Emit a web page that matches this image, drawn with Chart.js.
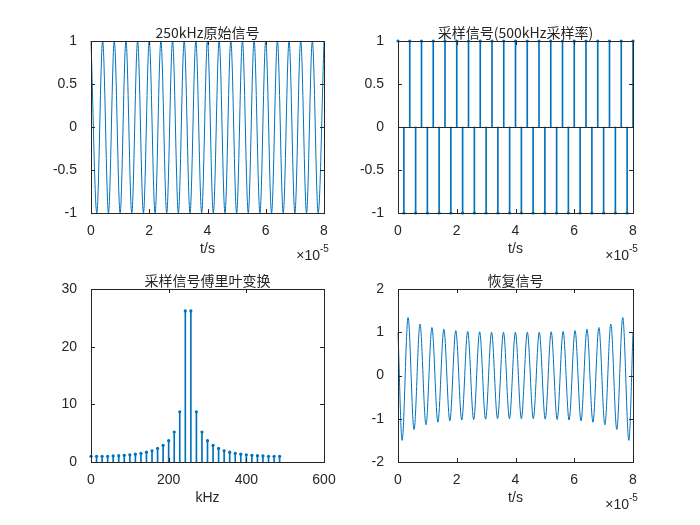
<!DOCTYPE html>
<html><head><meta charset="utf-8">
<script src="https://cdn.jsdelivr.net/npm/chart.js@4"></script>
<style>
body{margin:0;background:#fff;width:700px;height:525px;position:relative;overflow:hidden}
.c{position:absolute;width:350px;height:262px}
</style></head><body>
<div class="c" style="left:0;top:0"><canvas id="c1"></canvas></div>
<div class="c" style="left:350px;top:0"><canvas id="c2"></canvas></div>
<div class="c" style="left:0;top:262px"><canvas id="c3"></canvas></div>
<div class="c" style="left:350px;top:262px"><canvas id="c4"></canvas></div>
<script>
// time axis in units of 1e-5 s
const sampleT = [0,0.2,0.4,0.6,0.8,1,1.2,1.4,1.6,1.8,2,2.2,2.4,2.6,2.8,3,3.2,3.4,3.6,3.8,4,4.2,4.4,4.6,4.8,5,5.2,5.4,5.6,5.8,6,6.2,6.4,6.6,6.8,7,7.2,7.4,7.6,7.8,8];
const sampleV = [1,-1,1,-1,1,-1,1,-1,1,-1,1,-1,1,-1,1,-1,1,-1,1,-1,1,-1,1,-1,1,-1,1,-1,1,-1,1,-1,1,-1,1,-1,1,-1,1,-1,1];
// original signal extrema (same instants)
const origT = sampleT;
const origV = sampleV;
// FFT magnitude
const freqK = [0,14.29,28.57,42.86,57.14,71.43,85.71,100,114.29,128.57,142.86,157.14,171.43,185.71,200,214.29,228.57,242.86,257.14,271.43,285.71,300,314.29,328.57,342.86,357.14,371.43,385.71,400,414.29,428.57,442.86,457.14,471.43,485.71];
const fftMag = [1.0,1.0,1.0,1.0,1.05,1.1,1.15,1.25,1.35,1.5,1.7,1.95,2.35,2.9,3.7,5.2,8.7,26.2,26.2,8.7,5.2,3.7,2.9,2.35,1.95,1.7,1.5,1.35,1.25,1.15,1.1,1.05,1.0,1.0,1.0];
// recovered signal extrema
const recT = [0,0.14,0.343,0.546,0.749,0.952,1.155,1.358,1.561,1.764,1.967,2.17,2.373,2.576,2.779,2.982,3.185,3.388,3.591,3.794,3.997,4.2,4.403,4.606,4.809,5.012,5.215,5.418,5.621,5.824,6.027,6.23,6.433,6.636,6.839,7.042,7.245,7.448,7.651,7.86,8];
const recV = [1.0,-1.5,1.34,-1.25,1.19,-1.14,1.11,-1.08,1.07,-1.05,1.04,-1.03,1.02,-1.02,1.01,-1.01,1.0,-1.0,1.0,-1.0,1.0,-1.0,1.0,-1.0,1.0,-1.01,1.01,-1.02,1.02,-1.03,1.04,-1.05,1.07,-1.08,1.11,-1.14,1.19,-1.25,1.34,-1.5,1.0];

const BLUE='#0072BD', TXT='#262626';
const FONT="'Liberation Sans', Arial, 'Noto Sans CJK SC', sans-serif";
Chart.defaults.font.family=FONT; Chart.defaults.font.size=14; Chart.defaults.color=TXT;
Chart.defaults.animation=false;

const boxPlugin={id:'box',afterDraw(ch,a,o){
  const {ctx,chartArea:ca}=ch; ctx.save(); ctx.strokeStyle=TXT; ctx.lineWidth=1;
  const xs=ch.scales.x, ys=ch.scales.y;
  if(o.base){const p=Math.round(ys.getPixelForValue(0))+.5;ctx.beginPath();ctx.moveTo(ca.left,p);ctx.lineTo(ca.right,p);ctx.stroke();}
  ctx.strokeRect(Math.round(ca.left)+.5,Math.round(ca.top)+.5,Math.round(ca.right-ca.left),Math.round(ca.bottom-ca.top));
  ctx.beginPath();
  xs.ticks.forEach(t=>{const p=Math.round(xs.getPixelForValue(t.value))+.5;ctx.moveTo(p,ca.bottom);ctx.lineTo(p,ca.bottom-4);ctx.moveTo(p,ca.top);ctx.lineTo(p,ca.top+4);});
  ys.ticks.forEach(t=>{const p=Math.round(ys.getPixelForValue(t.value))+.5;ctx.moveTo(ca.left,p);ctx.lineTo(ca.left+4,p);ctx.moveTo(ca.right,p);ctx.lineTo(ca.right-4,p);});
  ctx.stroke();
  ctx.fillStyle=TXT;
  if(o.exp){ctx.font='14px '+FONT;ctx.textAlign='right';ctx.textBaseline='alphabetic';ctx.fillText('\u00d710',ca.right-4,ca.bottom+47);ctx.font='10px '+FONT;ctx.textAlign='left';ctx.fillText('-5',ca.right-4,ca.bottom+39);}
  ctx.font="14px 'Noto Sans CJK SC', "+FONT;ctx.textAlign='center';ctx.textBaseline='bottom';
  ctx.fillText(o.title,(ca.left+ca.right)/2,ca.top-1);
  ctx.restore();
}};

function mk(id,title,datasets,x,y,side,top,opts){
  const yw = side==='L'?91:48, pr = side==='L'?26:67;
  opts.title=title;
  return new Chart(document.getElementById(id),{
    data:{datasets},
    plugins:[boxPlugin],
    options:{responsive:true,maintainAspectRatio:false,
      layout:{padding:{left:0,right:pr,top:top?41:27,bottom:top?0:13}},
      plugins:{legend:{display:false},tooltip:{enabled:false},box:opts},
      scales:{
        x:{type:'linear',offset:false,min:x[0],max:x[1],grid:{display:false,offset:false},border:{display:false},
          ticks:{stepSize:x[2],autoSkip:false,padding:2,callback:v=>String(v)},
          title:{display:true,text:x[3],padding:{top:0}},
          afterFit(s){s.height=49;}},
        y:{type:'linear',min:y[0],max:y[1],grid:{display:false},border:{display:false},
          ticks:{stepSize:y[2],padding:6,callback:v=>String(v)},afterFit(s){s.width=yw;}}
      }}});
}
const pts=(xs,ys)=>xs.map((v,i)=>({x:v,y:ys[i]}));
const line=(d)=>({type:'line',data:d,borderColor:BLUE,borderWidth:1,pointRadius:0,cubicInterpolationMode:'monotone',clip:false});
const stems=(d)=>({type:'bar',data:d,backgroundColor:BLUE,barThickness:1,grouped:false});
const marks=(d)=>({type:'scatter',data:d,backgroundColor:BLUE,borderColor:BLUE,pointRadius:1.6,borderWidth:0,clip:false});

mk('c1','250kHz原始信号',[line(pts(origT,origV))],[0,8,2,'t/s'],[-1,1,0.5],'L',true,{exp:true});
const sp=pts(sampleT,sampleV);
mk('c2','采样信号(500kHz采样率)',[marks(sp),stems(sp)],[0,8,2,'t/s'],[-1,1,0.5],'R',true,{exp:true,base:true});
const fp=pts(freqK,fftMag);
mk('c3','采样信号傅里叶变换',[marks(fp),stems(fp)],[0,600,200,'kHz'],[0,30,10],'L',false,{});
mk('c4','恢复信号',[line(pts(recT,recV))],[0,8,2,'t/s'],[-2,2,1],'R',false,{exp:true});
</script></body></html>
